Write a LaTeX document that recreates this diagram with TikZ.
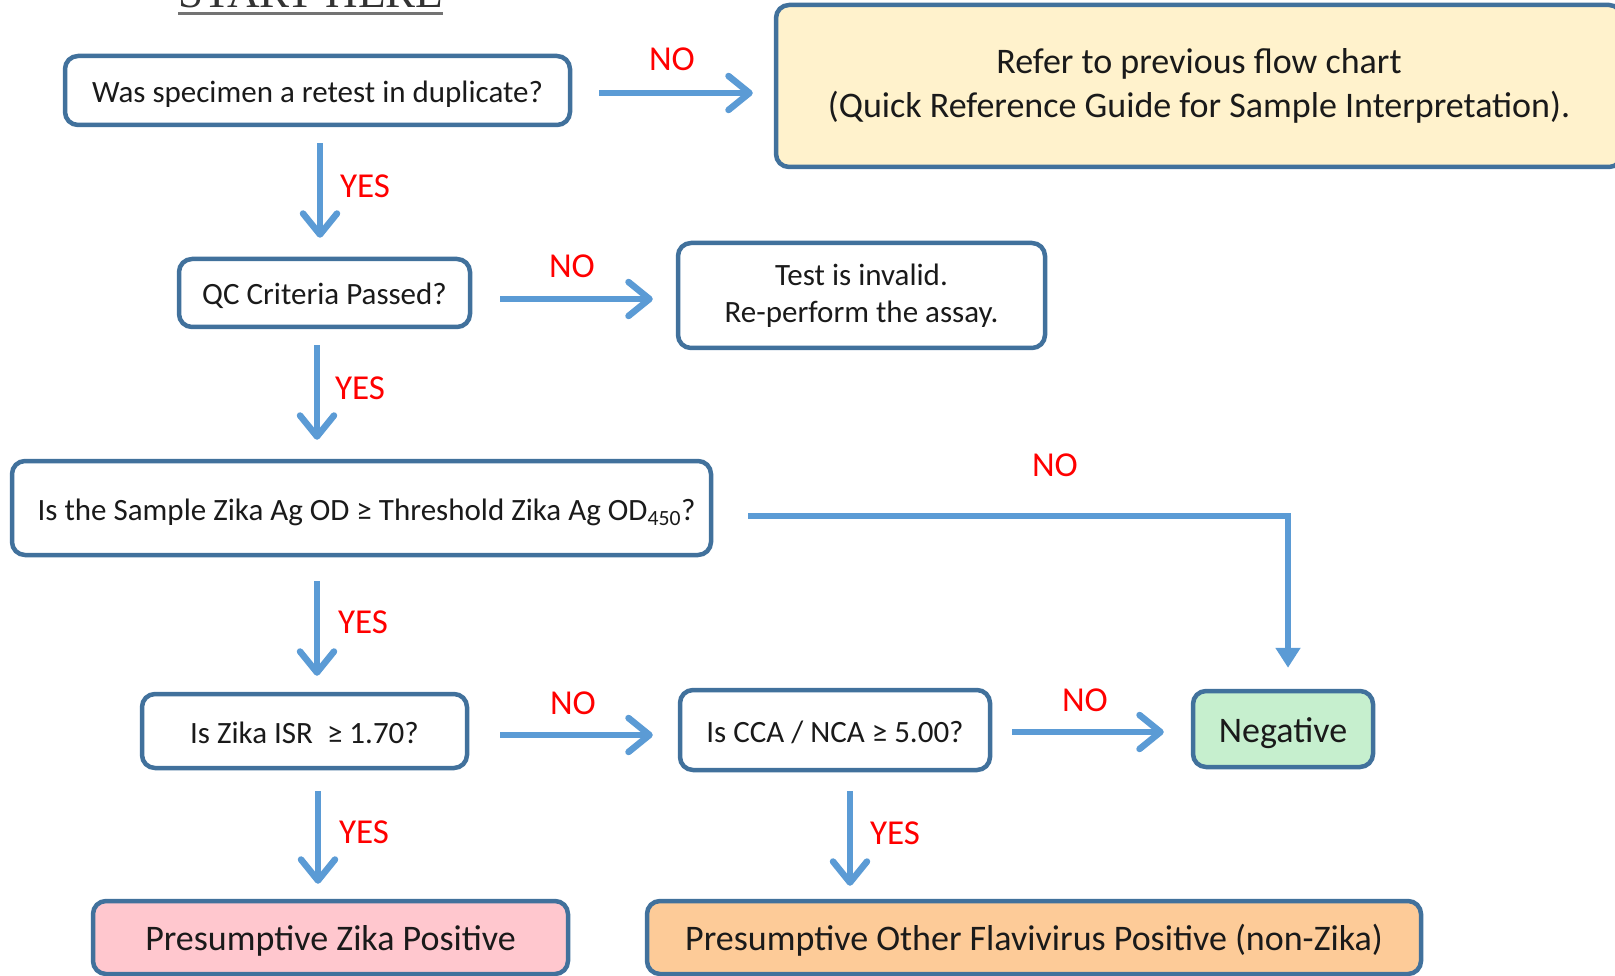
\documentclass[tikz,border=0pt]{standalone}
\usepackage{fontspec}
\setmainfont{Carlito}
\newfontfamily\serifstart{Liberation Serif}
\usetikzlibrary{arrows.meta}
\definecolor{boxline}{HTML}{41719C}
\definecolor{arrowblue}{HTML}{5B9BD5}
\definecolor{fillyellow}{HTML}{FFF2CC}
\definecolor{fillgreen}{HTML}{C6EFCE}
\definecolor{fillpink}{HTML}{FFC7CE}
\definecolor{fillorange}{HTML}{FDCB98}
\definecolor{labelred}{HTML}{FF0000}
\definecolor{txt}{HTML}{1A1A1A}
\tikzset{
  box/.style={draw=boxline, line width=4.5pt, rounded corners=13pt, fill=white,
    text=txt, inner sep=0pt, align=center, font=\fontsize{31}{37}\selectfont},
  oneline/.style={text height=24pt, text depth=0pt},
  resultbox/.style={box, text height=26pt, text depth=0pt, font=\fontsize{36}{42}\selectfont},
  flow/.style={draw=arrowblue, line width=6.5pt, -{Straight Barb[length=21pt,width=34pt,round]}},
  flowtri/.style={draw=arrowblue, line width=6.5pt, -{Triangle[length=20pt,width=24pt]}},
  lbl/.style={text=labelred, font=\fontsize{35}{40}\selectfont, inner sep=0pt}
}
\begin{document}
\begin{tikzpicture}[x=1pt,y=-1pt]
\useasboundingbox (0,0) rectangle (1615,976);
\clip (0,0) rectangle (1615,976);
% START HERE (cut off at top)
\node[anchor=base west, inner sep=0pt, text=black!80, font=\serifstart\fontsize{45}{50}\selectfont] (start) at (178,8) {START HERE};
\draw[black!55, line width=3pt] ([yshift=-6pt]start.base west) -- ([yshift=-6pt]start.base east);
% boxes
\node[box, oneline, minimum width=505pt, minimum height=69pt] (b1) at (317.5,90.5) {Was specimen a retest in duplicate?};
\node[box, fill=fillyellow, minimum width=846pt, minimum height=162pt, font=\fontsize{36}{44}\selectfont] (b2) at (1199,86) {Refer to previous flow chart\\(Quick Reference Guide for Sample Interpretation).};
\node[box, oneline, minimum width=291pt, minimum height=68pt] (b3) at (324.5,293) {QC Criteria Passed?};
\node[box, minimum width=367pt, minimum height=105pt] (b4) at (861.5,295.5) {Test is invalid.\\Re-perform the assay.};
\node[box, oneline, minimum width=699pt, minimum height=94pt] (b5) at (361.5,508) {\hspace*{10pt}Is the Sample Zika Ag OD ≥ Threshold Zika Ag OD\textsubscript{450}?};
\node[box, oneline, minimum width=325pt, minimum height=74pt] (b6) at (304.5,731) {Is Zika ISR~~≥ 1.70?};
\node[box, oneline, minimum width=310pt, minimum height=80pt] (b7) at (835,730) {Is CCA / NCA ≥ 5.00?};
\node[resultbox, fill=fillgreen, minimum width=180pt, minimum height=76pt] (b8) at (1283,729) {Negative};
\node[resultbox, fill=fillpink, minimum width=475pt, minimum height=73pt] (b9) at (330.5,937.5) {Presumptive Zika Positive};
\node[resultbox, fill=fillorange, minimum width=774pt, minimum height=73pt] (b10) at (1034,937.5) {Presumptive Other Flavivirus Positive (non-Zika)};
\coordinate (b8top) at ([xshift=5pt]b8.north);
% connectors
\draw[flow, shorten <=27pt, shorten >=21pt] ([yshift=-2.5pt]b1.east) -- ([yshift=-2.5pt]b1.east -| b2.west);
\draw[flow, shorten <=16pt, shorten >=19pt] ([xshift=2.5pt]b1.south) -- ([xshift=2.5pt]b1.south |- b3.north);
\draw[flow, shorten <=28pt, shorten >=23pt] ([yshift=-6pt]b3.east) -- ([yshift=-6pt]b3.east -| b4.west);
\draw[flow, shorten <=16pt, shorten >=19pt] ([xshift=-7.5pt]b3.south) -- ([xshift=-7.5pt]b3.south |- b5.north);
\draw[flowtri, shorten <=35pt, shorten >=21pt] ([yshift=-8pt]b5.east) -- ([yshift=-8pt]b5.east -| b8top) -- (b8top);
\draw[flow, shorten <=24pt, shorten >=16pt] ([xshift=-44.5pt]b5.south) -- ([xshift=-44.5pt]b5.south |- b6.north);
\draw[flow, shorten <=31pt, shorten >=25pt] ([yshift=-4pt]b6.east) -- ([yshift=-4pt]b6.east -| b7.west);
\draw[flow, shorten <=20pt, shorten >=27pt] ([yshift=-2pt]b7.east) -- ([yshift=-2pt]b7.east -| b8.west);
\draw[flow, shorten <=21pt, shorten >=15pt] ([xshift=13.5pt]b6.south) -- ([xshift=13.5pt]b6.south |- b9.north);
\draw[flow, shorten <=19pt, shorten >=13pt] ([xshift=15pt]b7.south) -- ([xshift=15pt]b7.south |- b10.north);
% labels
\node[lbl] (l1) at (672,59) {NO};
\node[lbl] (l2) at (365,186) {YES};
\node[lbl] (l3) at (572,266) {NO};
\node[lbl] (l4) at (360,388) {YES};
\node[lbl] (l5) at (1055,465) {NO};
\node[lbl] (l6) at (363,622) {YES};
\node[lbl] (l7) at (573,703) {NO};
\node[lbl] (l8) at (1085,700) {NO};
\node[lbl] (l9) at (364,832) {YES};
\node[lbl] (l10) at (895,833) {YES};
\end{tikzpicture}
\end{document}
